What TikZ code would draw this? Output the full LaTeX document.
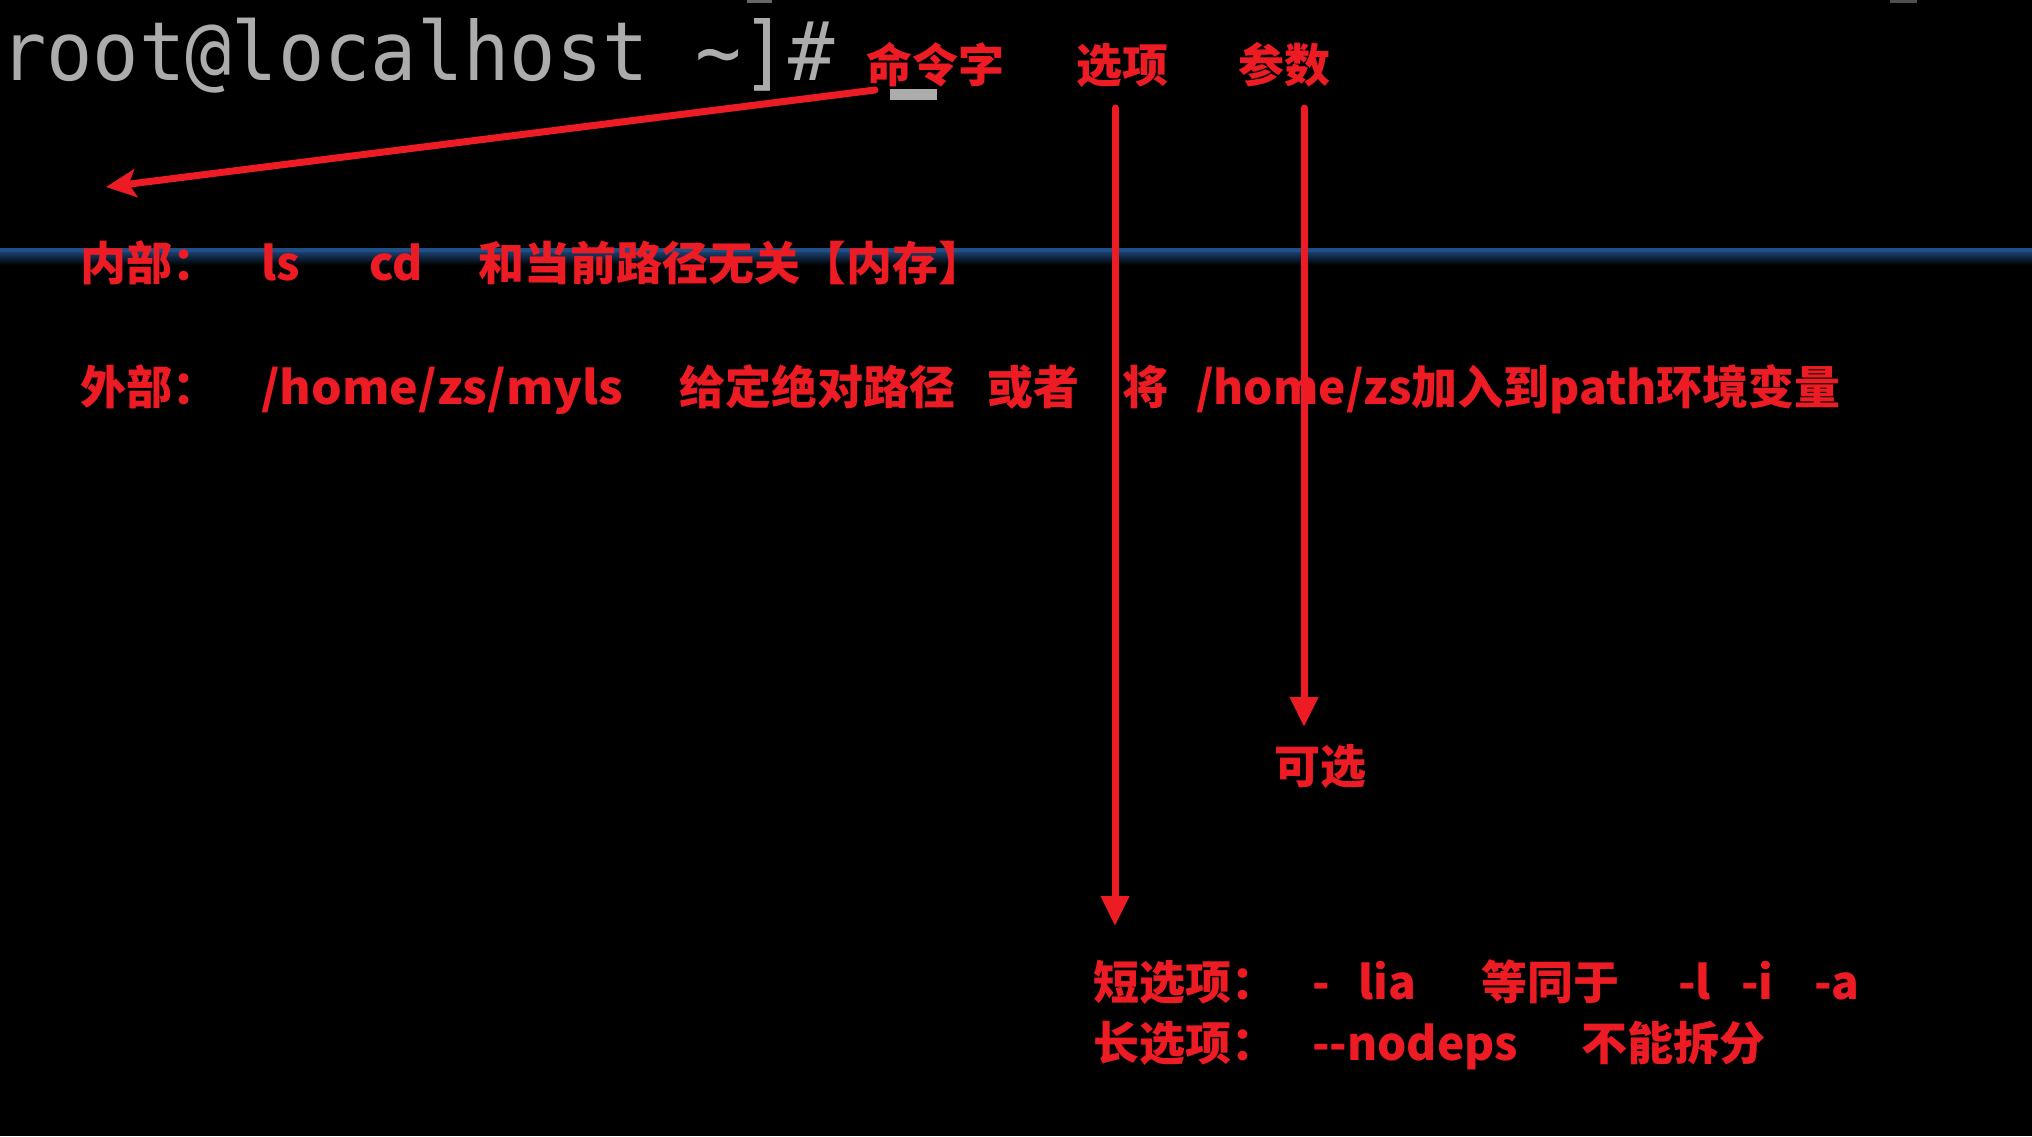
\documentclass[tikz,border=0pt]{standalone}
\usepackage{fontspec}
\usetikzlibrary{arrows.meta}
\newfontfamily\cjk{Noto Sans CJK SC}
\newfontfamily\mono{DejaVu Sans Mono}
\definecolor{annred}{RGB}{237,28,36}
\definecolor{termgray}{RGB}{172,172,172}
\definecolor{barblue}{RGB}{32,78,135}
\begin{document}
\begin{tikzpicture}[x=0.5pt,y=-0.5pt,
  lbl/.style={inner sep=0pt,outer sep=0pt,anchor=base west,text=annred,
    font=\cjk\bfseries\fontsize{23pt}{23pt}\selectfont},
  term/.style={inner sep=0pt,outer sep=0pt,anchor=base west,text=termgray,
    font=\mono\fontsize{38.5pt}{40pt}\selectfont},
  redline/.style={draw=annred,line width=3.5pt,line cap=round},
  downarrow/.style={redline,-{Triangle[width=13.5pt,length=15pt]}},
  leftarrow/.style={redline,-{Stealth[width=14pt,length=15pt,inset=3.5pt]}}]
\useasboundingbox (0,0) rectangle (2032,1136);
\fill[black] (0,0) rectangle (2032,1136);
% separator bar
\fill[barblue] (0,248) rectangle (2032,252);
\shade[top color=barblue!80!black,bottom color=black] (0,252) rectangle (2032,265);
% terminal remnants
\fill[termgray!60!black] (747,0) rectangle (772,3);
\fill[termgray!45!black] (1890,0) rectangle (1917,3);
\node[term] (prompt) at (0,80) {\scalebox{1}[1.06]{root@localhost \textasciitilde]\#}};
\fill[termgray] (890,89) rectangle (937,100);
% header labels
\node[lbl] (cmd) at (866,82) {命令字};
\node[lbl] (opt) at (1076,82) {选项};
\node[lbl] (arg) at (1238,82) {参数};
% internal line
\node[lbl] (inner) at (80,280) {内部：};
\node[lbl] (ls) at (261,280) {ls};
\node[lbl] (cd) at (369,280) {cd};
\node[lbl] (innerdesc) at (478,280) {和当前路径无关【内存】};
% external line
\node[lbl] (outer) at (80,404) {外部：};
\node[lbl] (myls) at (261,404) {\scalebox{1.05}[1]{/home/zs/myls}};
\node[lbl] (abs) at (679,404) {给定绝对路径};
\node[lbl] (orw) at (987,404) {或者};
\node[lbl] (jiang) at (1122,404) {将};
\node[lbl] (pathadd) at (1196,404) {/home/zs加入到path环境变量};
% optional
\node[lbl] (optional) at (1274,783) {可选};
% short / long options
\node[lbl] (short) at (1093,999) {短选项：};
\node[lbl] (dash) at (1312,999) {-};
\node[lbl] (lia) at (1358,999) {lia};
\node[lbl] (same) at (1481,999) {等同于};
\node[lbl] (ol) at (1678,999) {-l};
\node[lbl] (oi) at (1741,999) {-i};
\node[lbl] (oa) at (1814,999) {-a};
\node[lbl] (long) at (1093,1060) {长选项：};
\node[lbl] (nodeps) at (1312,1060) {--nodeps};
\node[lbl] (nosplit) at (1581,1060) {不能拆分};
% connectors
\coordinate (a1s) at (875,90);
\coordinate (a1e) at (106,187);
\coordinate (a2s) at (1115,108);
\coordinate (a2e) at (1115,926);
\coordinate (a3s) at (1304,108);
\coordinate (a3e) at (1304,727);
\draw[leftarrow] (a1s) -- (a1e);
\draw[downarrow] (a2s) -- (a2e);
\draw[downarrow] (a3s) -- (a3e);
\end{tikzpicture}
\end{document}
